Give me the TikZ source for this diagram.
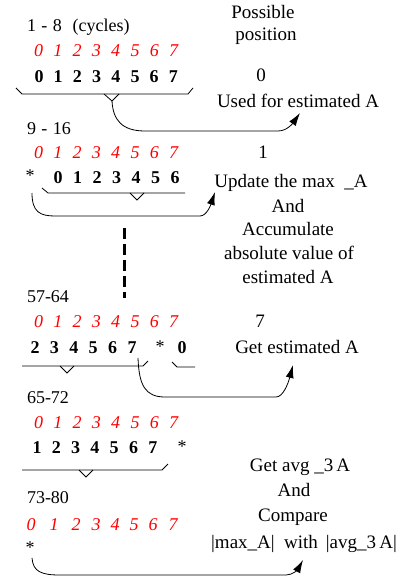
\documentclass[tikz,border=0pt]{standalone}
\usepackage{fontspec}
\setmainfont{Liberation Serif}
\usetikzlibrary{arrows.meta}
\begin{document}
\begin{tikzpicture}[x=1pt,y=-1pt,
  every node/.style={inner sep=0pt,outer sep=0pt},
  lbl/.style={anchor=base west,font=\fontsize{18}{20}\selectfont},
  rd/.style={anchor=base,text=red,font=\fontsize{18}{20}\selectfont\itshape},
  bd/.style={anchor=base,font=\fontsize{18}{20}\selectfont\bfseries},
  st/.style={anchor=base,font=\fontsize{18}{20}\selectfont},
  txt/.style={anchor=base,font=\fontsize{19}{22}\selectfont},
  brace/.style={line width=0.8pt},
  conn/.style={line width=0.8pt,-{Latex[length=13pt,width=8pt]}},
]
\useasboundingbox (0,0) rectangle (410,580);

% ---- cycles 1-8 ----
\node[lbl] (c1) at (27,32) {1\hspace{0.3em}-\hspace{0.3em}8\hspace{0.6em}(cycles)};
\foreach \d in {0,...,7} \node[rd] (ra\d) at ({38.5+19.3*\d},57) {\d};
\foreach \d in {0,...,7} \node[bd] (ba\d) at ({39+19.2*\d},83) {\d};
\draw[brace] (16,88) -- (22,94) -- (188,94) -- (193,88);
\draw[brace] (104,94) -- (112,101) -- (119,94);
\coordinate (n1) at (112,101);

% ---- cycles 9-16 ----
\node[lbl] (c2) at (27,135) {9\hspace{0.3em}-\hspace{0.3em}16};
\foreach \d in {0,...,7} \node[rd] (rb\d) at ({38.5+19.3*\d},158) {\d};
\node[st] (sb) at (30,182) {*};
\foreach \d in {0,...,6} \node[bd] (bb\d) at ({58+19.5*\d},183) {\d};
\draw[brace] (42,188) -- (48,193) -- (185,193);
\draw[brace] (130,193) -- (137,200) -- (144,193);
\coordinate (s2) at (32,193);

% ---- omitted cycles ----
\coordinate (d1) at (124,228);
\coordinate (d2) at (124,298);
\draw[line width=3pt,dash pattern=on 11pt off 5pt] (d1) -- (d2);

% ---- cycles 57-64 ----
\node[lbl] (c3) at (27,302) {57-64};
\foreach \d in {0,...,7} \node[rd] (rc\d) at ({38.5+19.3*\d},327) {\d};
\foreach \d [count=\i from 0] in {2,...,7} \node[bd] (bc\d) at ({35+19.4*\i},353) {\d};
\node[st] (sc) at (160,352) {*};
\node[bd] (bcz) at (182,353) {0};
\draw[brace] (22,366) -- (143,366) -- (148,361);
\draw[brace] (60,366) -- (67,373) -- (74,366);
\draw[brace] (172,362) -- (177,367) -- (195,367);
\coordinate (s3) at (138,358);

% ---- cycles 65-72 ----
\node[lbl] (c4) at (27,403) {65-72};
\foreach \d in {0,...,7} \node[rd] (rd\d) at ({38.5+19.3*\d},428) {\d};
\foreach \d [count=\i from 0] in {1,...,7} \node[bd] (bd\d) at ({37+19.3*\i},453) {\d};
\node[st] (sd) at (182,452) {*};
\draw[brace] (22,470) -- (162,470) -- (168,464);
\draw[brace] (79,470) -- (86,477) -- (93,470);

% ---- cycles 73-80 ----
\node[lbl] (c5) at (27,503) {73-80};
\foreach \d/\x in {0/31,1/54,2/76,3/96,4/115,5/134,6/153,7/173} \node[rd] (re\d) at (\x,530) {\d};
\node[st] (se) at (30,553) {*};
\coordinate (s5) at (32,558);

% ---- possible positions ----
\node[txt] (h1) at (263,19) {Possible};
\node[txt] (h2) at (266,41) {position};
\node[txt] (p0) at (261,82) {0};
\node[txt] (a0) at (298,108) {Used for estimated A};
\node[txt] (p1) at (263,158) {1};
\node[txt] (a1) at (291,187) {Update the max\ \ \_A};
\node[txt] (a1b) at (288,212) {And};
\node[txt] (a1c) at (288,235) {Accumulate};
\node[txt] (a1d) at (289,259) {absolute value of};
\node[txt] (a1e) at (288,283) {estimated A};
\node[txt] (p7) at (260,327) {7};
\node[txt] (a7) at (297,353) {Get estimated A};
\node[txt] (a9) at (300,471) {Get avg \_3\,A};
\node[txt] (a9b) at (294,496) {And};
\node[txt] (a9c) at (293,521) {Compare};
\node[txt] (a9d) at (304,548) {|max\_A|\ \ with\, |avg\_3\,A|};

% ---- arrow tips below the actions ----
\coordinate (t1) at (300,113);
\coordinate (t2) at (215,192);
\coordinate (t3) at (293,365);
\coordinate (t5) at (303,560);

% ---- connectors ----
\draw[conn] (n1) .. controls (113,120) and (122,131) .. (145,131) -- (278,131)
  .. controls (287,131) and (293,123) .. (t1);
\draw[conn] (s2) .. controls (32,212) and (40,216) .. (55,216) -- (200,216)
  .. controls (207,216) and (211,204) .. (t2);
\draw[conn] (s3) .. controls (139,385) and (145,397) .. (165,397) -- (276,397)
  .. controls (283,397) and (288,384) .. (t3);
\draw[conn] (s5) .. controls (33,572) and (42,575) .. (60,575) -- (286,575)
  .. controls (293,575) and (298,569) .. (t5);
\end{tikzpicture}
\end{document}
